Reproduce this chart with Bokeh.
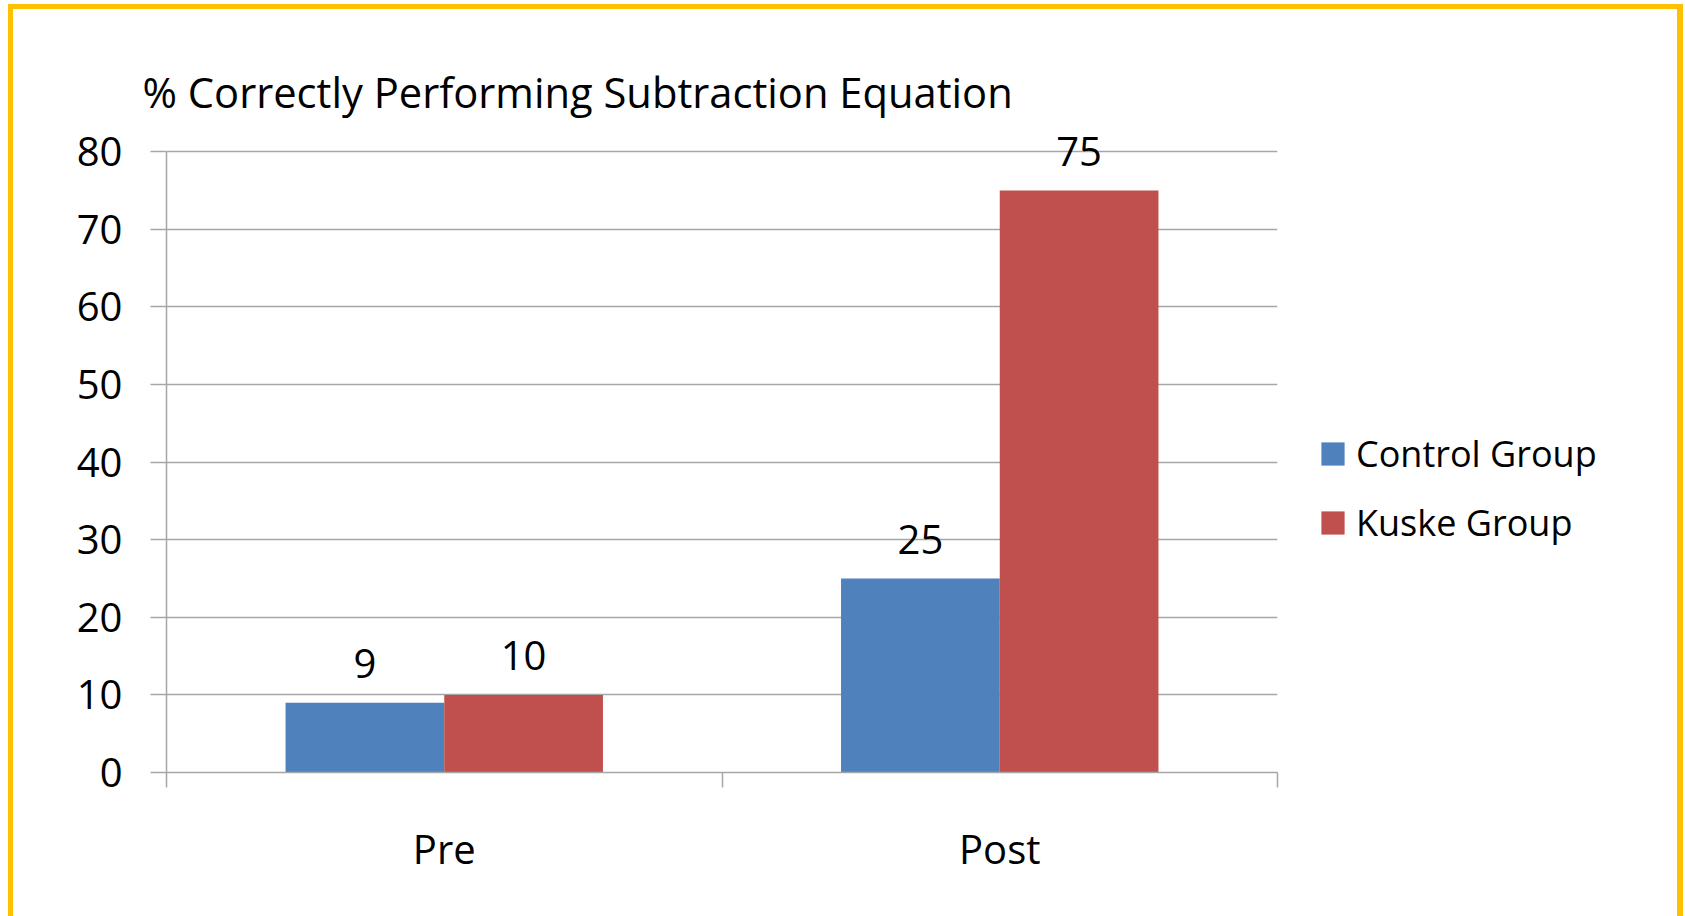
from bokeh.plotting import figure
from bokeh.models import (ColumnDataSource, Range1d, FixedTicker, LabelSet, Legend,
                          LegendItem)
from bokeh.core.properties import value
from bokeh.transform import dodge
from bokeh.embed import file_html
from bokeh.resources import INLINE

# ---- data ----
categories = ["Pre", "Post"]
control_group = [9, 25]
kuske_group = [10, 75]
y_ticks = [0, 10, 20, 30, 40, 50, 60, 70, 80]
series_names = ["Control Group", "Kuske Group"]
title_text = "% Correctly Performing Subtraction Equation"

# ---- style ----
FONT = "Open Sans"
BLUE = "#4F81BD"
RED = "#C0504D"
GRID = "#A6A6A6"
BORDER = "#FFC000"
BAR_W = 1 / 3.5  # Excel gap width 150%
Y_TOP = 83       # a little headroom so the top data label is not clipped

n = len(categories)
xc = [i + 0.5 for i in range(n)]
src = ColumnDataSource(dict(
    cat=categories, xc=xc,
    control=control_group, kuske=kuske_group,
    control_txt=[str(v) for v in control_group],
    kuske_txt=[str(v) for v in kuske_group],
))

p = figure(frame_width=1111, frame_height=644,
           x_range=Range1d(0, n), y_range=Range1d(0, Y_TOP),
           output_backend="svg", toolbar_location=None,
           min_border_left=166, min_border_right=408,
           min_border_top=128, min_border_bottom=144)
p.background_fill_color = "white"
p.border_fill_color = None
p.outline_line_color = None
# yellow slide frame drawn behind the transparent canvas border area
bar = f"linear-gradient({BORDER},{BORDER})"
p.styles = {
    "background": (f"{bar} 8px 4px / 1675px 5px no-repeat, "
                   f"{bar} 8px 4px / 5px 912px no-repeat, "
                   f"{bar} 1677px 4px / 6px 912px no-repeat, #FFFFFF"),
}

# title
p.title.text = title_text
p.title.align = "left"
p.title.offset = -24
p.title.text_font = FONT
p.title.text_font_size = "41.7px"
p.title.text_font_style = "normal"
p.title.text_color = "black"
p.title.standoff = 18

# y axis
p.yaxis.bounds = (y_ticks[0], y_ticks[-1])
p.yaxis.ticker = FixedTicker(ticks=y_ticks, minor_ticks=[])
p.yaxis.major_tick_out = 16
p.yaxis.major_tick_in = 0
p.yaxis.minor_tick_out = 0
p.yaxis.minor_tick_in = 0
p.yaxis.major_label_standoff = 28
p.yaxis.major_label_text_font = FONT
p.yaxis.major_label_text_font_size = "40px"
p.yaxis.major_label_text_color = "black"
p.yaxis.axis_line_color = GRID
p.yaxis.axis_line_width = 1.5
p.yaxis.major_tick_line_color = GRID
p.yaxis.major_tick_line_width = 1.5

# x axis: labels at category centres, tick marks at category boundaries
p.xaxis.ticker = FixedTicker(ticks=xc, minor_ticks=list(range(n + 1)))
p.xaxis.major_label_overrides = {x: c for x, c in zip(xc, categories)}
p.xaxis.major_tick_out = 0
p.xaxis.major_tick_in = 0
p.xaxis.minor_tick_out = 15
p.xaxis.minor_tick_in = 0
p.xaxis.minor_tick_line_color = GRID
p.xaxis.minor_tick_line_width = 1.5
p.xaxis.major_label_standoff = 33
p.xaxis.major_label_text_font = FONT
p.xaxis.major_label_text_font_size = "40px"
p.xaxis.major_label_text_color = "black"
p.xaxis.axis_line_color = GRID
p.xaxis.axis_line_width = 1.5

# grid
p.xgrid.visible = False
p.ygrid.ticker = FixedTicker(ticks=y_ticks, minor_ticks=[])
p.ygrid.grid_line_color = GRID
p.ygrid.grid_line_width = 1.5

# bars
r1 = p.vbar(x=dodge("xc", -BAR_W / 2, range=p.x_range), top="control", width=BAR_W,
            source=src, fill_color=BLUE, line_color=None)
r2 = p.vbar(x=dodge("xc", BAR_W / 2, range=p.x_range), top="kuske", width=BAR_W,
            source=src, fill_color=RED, line_color=None)

# data labels
for field, txt, off in (("control", "control_txt", -BAR_W / 2), ("kuske", "kuske_txt", BAR_W / 2)):
    p.add_layout(LabelSet(x=dodge("xc", off, range=p.x_range), y=field, text=txt, source=src,
                          text_align="center", text_baseline="alphabetic", y_offset=25,
                          text_font=value(FONT), text_font_size=value("40px"),
                          text_color=value("black")))

# legend (in the right panel so that it is not clipped by the frame)
legend = Legend(items=[LegendItem(label=series_names[0], renderers=[r1]),
                       LegendItem(label=series_names[1], renderers=[r2])],
                location=(41, 225), orientation="vertical",
                glyph_width=29, glyph_height=29, label_standoff=9, spacing=20,
                padding=0, margin=0, border_line_color=None, background_fill_alpha=0,
                label_text_font=FONT, label_text_font_size="36px", label_text_color="black")
p.add_layout(legend, "right")

open("out.html", "w").write(file_html(p, INLINE))
